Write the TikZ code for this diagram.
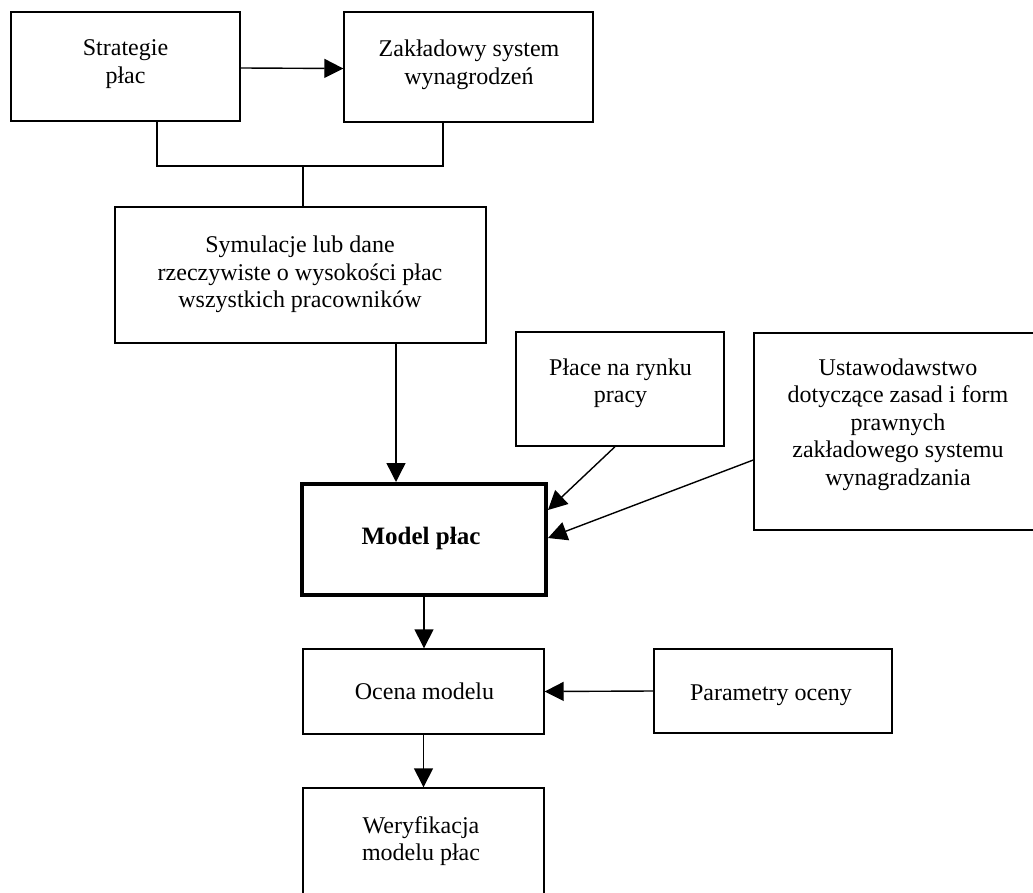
\documentclass[tikz,border=0pt]{standalone}
\usepackage{fontspec}
\setmainfont{Liberation Serif}
\usetikzlibrary{arrows.meta}
\tikzset{
  box/.style={draw, line width=0.7pt, inner sep=0pt, rectangle},
  thickbox/.style={draw, line width=2pt, inner sep=0pt, rectangle},
  txt/.style={anchor=base, inner sep=0pt, font=\fontsize{12}{13.75}\selectfont},
  arr/.style={line width=0.7pt, -{Triangle[length=9.5pt,width=9.5pt]}},
  conn/.style={line width=0.7pt}
}
\newcommand{\ml}[1]{\begin{tabular}[t]{@{}c@{}}#1\end{tabular}}
\begin{document}
\begin{tikzpicture}[x=0.5pt,y=-0.5pt]
\fill[white] (0,0) rectangle (1033,893);
\clip (0,0) rectangle (1033,893);
% boxes
\node[box, minimum width=114.5pt, minimum height=54.5pt] (b1) at (125.5,66.5) {};
\node[box, minimum width=124.5pt, minimum height=55pt] (b2) at (468.5,67) {};
\node[box, minimum width=185.5pt, minimum height=68pt] (s) at (300.5,275) {};
\node[thickbox, minimum width=122pt, minimum height=55.5pt] (model) at (424,539.5) {};
\node[box, minimum width=104pt, minimum height=57pt] (pl) at (620,389) {};
\node[box, minimum width=144pt, minimum height=98.5pt] (us) at (898,431.5) {};
\node[box, minimum width=120.5pt, minimum height=42.5pt] (oc) at (423.5,691.5) {};
\node[box, minimum width=119pt, minimum height=42pt] (par) at (773,691) {};
\node[box, minimum width=120.5pt, minimum height=61pt] (wer) at (423.5,849) {};
% texts
\node[txt] (t1) at (125.5,56) {\ml{Strategie\\płac}};
\node[txt] (t2) at (469,57) {\ml{Zakładowy system\\wynagrodzeń}};
\node[txt] (t3) at (300,253) {\ml{Symulacje lub dane\\rzeczywiste o wysokości płac\\wszystkich pracowników}};
\node[txt] (tpl) at (620.5,375) {\ml{Płace na rynku\\pracy}};
\node[txt] (tus) at (898,375) {\ml{Ustawodawstwo\\dotyczące zasad i form\\prawnych\\zakładowego systemu\\wynagradzania}};
\node[txt, font=\fontsize{12.5}{14}\selectfont\bfseries] (tm) at (421,544) {Model płac};
\node[txt] (toc) at (424.5,699) {Ocena modelu};
\node[txt] (tpar) at (771,700) {Parametry oceny};
\node[txt] (twer) at (421,833) {\ml{Weryfikacja\\modelu płac}};
% connectors
\coordinate (j) at (303,166);
\draw[arr] ([yshift=-0.75pt]b1.east) -- ([yshift=-0.75pt]b2.west);
\draw[conn] ([xshift=15.75pt]b1.south) |- (j) -| ([xshift=-12.75pt]b2.south);
\draw[conn] (j) -- (j |- s.north);
\draw[arr] ([xshift=47.75pt]s.south) -- ([xshift=47.75pt]s.south |- model.north);
\draw[arr] ([xshift=-2.5pt]pl.south) -- ([yshift=14.75pt]model.east);
\draw[arr] ([yshift=-14.25pt]us.west) -- ([yshift=0.75pt]model.east);
\draw[arr] (model.south) -- (model.south |- oc.north);
\draw[arr] (par.west) -- (oc.east);
\draw[arr] (oc.south) -- (oc.south |- wer.north);
\end{tikzpicture}
\end{document}
